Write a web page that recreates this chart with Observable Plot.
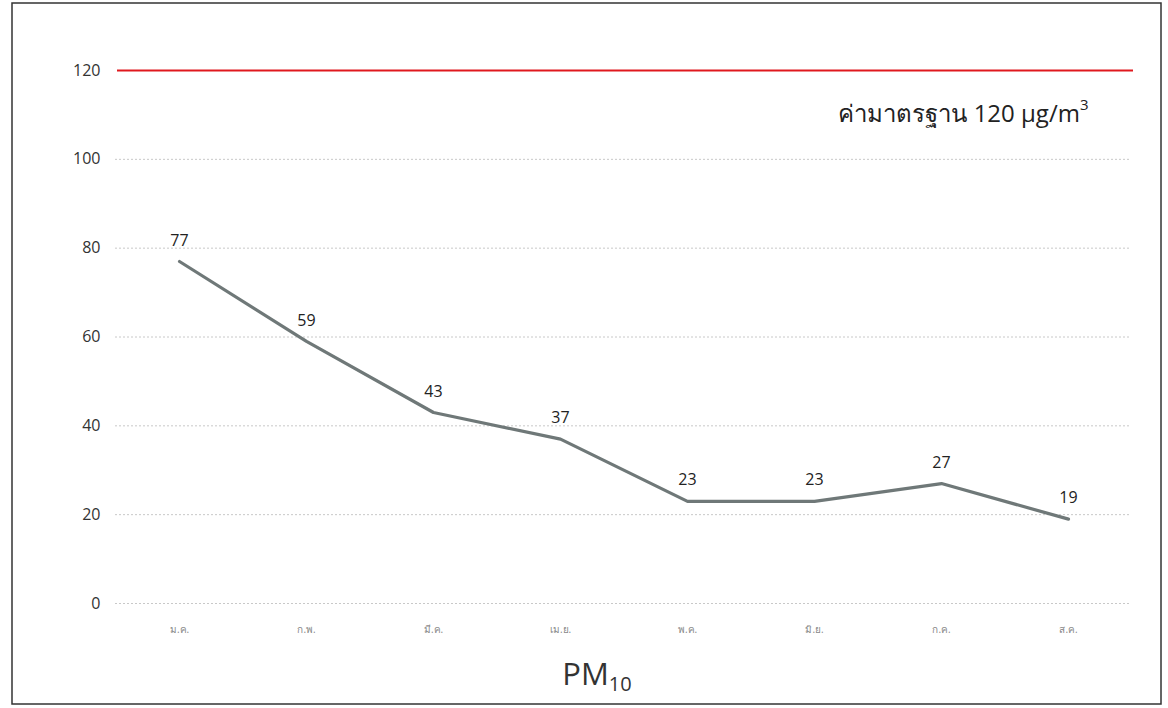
<!DOCTYPE html>
<html>
<head>
<meta charset="utf-8">
<script src="https://cdn.jsdelivr.net/npm/d3@7"></script>
<script src="https://cdn.jsdelivr.net/npm/@observablehq/plot@0.6"></script>
<style>
  body { margin: 0; background: #fff; }
  #chart svg { font-family: "Open Sans", "Noto Sans", "DejaVu Sans", sans-serif; }
</style>
</head>
<body>
<div id="chart"></div>
<script>
const months = ["ม.ค.", "ก.พ.", "มี.ค.", "เม.ย.", "พ.ค.", "มิ.ย.", "ก.ค.", "ส.ค."];
const pm10 = [77, 59, 43, 37, 23, 23, 27, 19];
const yTicks = [0, 20, 40, 60, 80, 100, 120];
const standard = 120;
const standardLabel = "ค่ามาตรฐาน 120 µg/m";
const standardSup = "3";
const xTitle = "PM";
const xTitleSub = "10";

const data = months.map((m, i) => ({month: m, value: pm10[i]}));

const chart = Plot.plot({
  width: 1168,
  height: 708,
  marginLeft: 115,
  marginRight: 37,
  marginTop: 70,
  marginBottom: 105,
  style: {background: "transparent", fontFamily: "'Open Sans', 'Noto Sans', sans-serif"},
  x: {type: "point", domain: months, padding: 0.5, label: null},
  y: {domain: [0, 120], ticks: yTicks, label: null},
  marks: [
    Plot.ruleY(yTicks.filter(t => t !== standard), {stroke: "#c8c8c8", strokeDasharray: "2,2", strokeWidth: 1}),
    Plot.ruleY([standard], {stroke: "#e0191e", strokeWidth: 2, dx: 2}),
    Plot.axisY({ticks: yTicks, tickSize: 0, tickPadding: 15, fontSize: 16, fill: "#333", label: null}),
    Plot.axisX({tickSize: 0, tickPadding: 22, fontSize: 10, fill: "#888", label: null}),
    Plot.line(data, {x: "month", y: "value", stroke: "#6f7878", strokeWidth: 3.2}),
    Plot.text(data, {x: "month", y: "value", text: d => String(d.value), dy: -21, fontSize: 16, fill: "#222"}),
    Plot.text([standardLabel], {frameAnchor: "top-right", text: d => d, dx: -43, dy: 34, fontSize: 24, fill: "#222", textAnchor: "end"})
  ]
});

document.getElementById("chart").appendChild(chart);

const svg = d3.select(chart);
// superscript on the standard label
svg.selectAll("text").filter(function() { return this.textContent === standardLabel; })
  .each(function() {
    const t = d3.select(this);
    const txt = t.text();
    t.text(null);
    t.append("tspan").text(txt);
    t.append("tspan").attr("dy", "-0.75em").attr("font-size", 15).text(standardSup);
  });

// x axis title with subscript
const title = svg.append("text")
  .attr("x", 597).attr("y", 685)
  .attr("text-anchor", "middle")
  .attr("font-size", 31)
  .attr("fill", "#333");
title.append("tspan").text(xTitle);
title.append("tspan").attr("dy", "0.3em").attr("font-size", 20).text(xTitleSub);

// outer border
svg.append("rect")
  .attr("x", 12).attr("y", 3).attr("width", 1149).attr("height", 701)
  .attr("fill", "none").attr("stroke", "#333").attr("stroke-width", 1.5);
</script>
</body>
</html>
